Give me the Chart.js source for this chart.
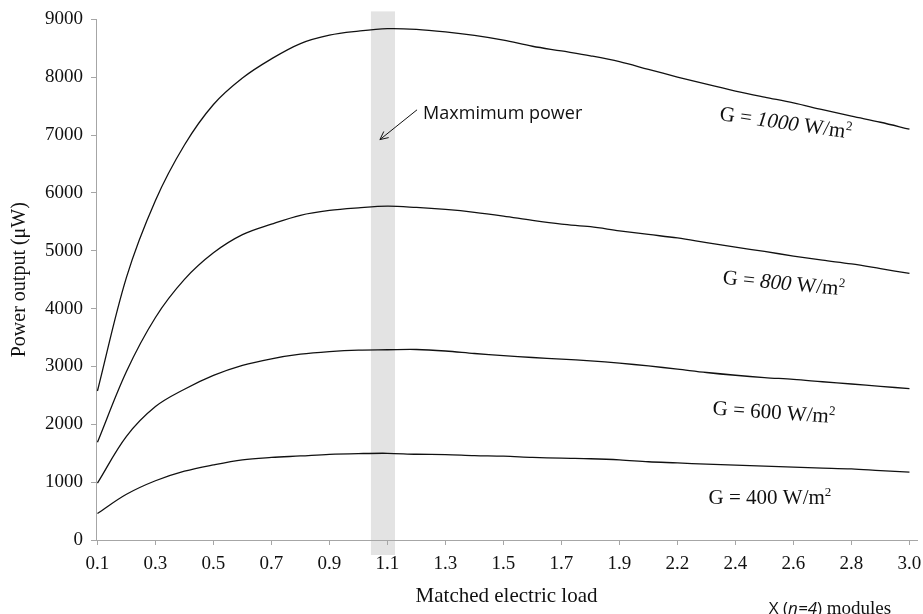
<!DOCTYPE html>
<html>
<head>
<meta charset="utf-8">
<script src="https://cdn.jsdelivr.net/npm/chart.js@4.4.0/dist/chart.umd.min.js"></script>
<style>
  html, body { margin: 0; padding: 0; background: #fff; }
  #wrap { width: 923px; height: 614px; position: relative; }
</style>
</head>
<body>
<div id="wrap"><canvas id="powerChart"></canvas></div>
<script>
const loadLabels = [
  "0.1", "0.2", "0.3", "0.4", "0.5", "0.6", "0.7", "0.8", "0.9", "1.0",
  "1.1", "1.2", "1.3", "1.4", "1.5", "1.6", "1.7", "1.8", "1.9", "2.0",
  "2.2", "2.3", "2.4", "2.5", "2.6", "2.7", "2.8", "2.9", "3.0"
];

const g1000 = [2576, 4540, 5870, 6829, 7529, 7987, 8318, 8582, 8727, 8797,
  8840, 8828, 8784, 8722, 8640, 8536, 8454, 8370, 8270, 8136,
  8004, 7879, 7762, 7657, 7557, 7439, 7327, 7222, 7102];
const g800 = [1689, 2913, 3847, 4505, 4964, 5278, 5459, 5613, 5697, 5742,
  5771, 5749, 5714, 5665, 5600, 5526, 5462, 5416, 5345, 5282,
  5222, 5141, 5062, 4988, 4909, 4837, 4772, 4691, 4608];
const g600 = [984, 1792, 2307, 2607, 2846, 3019, 3133, 3212, 3258, 3284,
  3289, 3293, 3267, 3224, 3188, 3155, 3128, 3097, 3057, 3009,
  2954, 2896, 2848, 2808, 2777, 2736, 2697, 2657, 2616];
const g400 = [459, 790, 1024, 1189, 1299, 1386, 1427, 1453, 1481, 1494,
  1499, 1482, 1477, 1460, 1450, 1429, 1414, 1405, 1386, 1353,
  1333, 1311, 1293, 1276, 1259, 1244, 1228, 1199, 1173];

const irradiance = ["1000", "800", "600", "400"];
const seriesValues = [g1000, g800, g600, g400];
const xTickIndex = [0, 2, 4, 6, 8, 10, 12, 14, 16, 18, 20, 22, 24, 26, 28];

const serif = '"Liberation Serif", "Times New Roman", serif';
const sans = '"Open Sans", "Noto Sans", sans-serif';
const axisGray = '#a6a6a6';

// label placement for each curve, in axis units
const curveTags = [
  { x: 23.74, y: 7220, angle: 8, italic: true },
  { x: 23.67, y: 4450, angle: 5.5, italic: true },
  { x: 23.33, y: 2216, angle: 4, italic: false },
  { x: 23.19, y: 739, angle: 0, italic: false }
];

function drawRuns(ctx, runs, cx, cy, angle) {
  ctx.save();
  ctx.translate(cx, cy);
  ctx.rotate(angle * Math.PI / 180);
  ctx.textBaseline = 'alphabetic';
  ctx.textAlign = 'left';
  let total = 0;
  runs.forEach(r => { ctx.font = r.font; r.w = ctx.measureText(r.text).width; total += r.w; });
  let x = -total / 2;
  runs.forEach(r => {
    ctx.font = r.font;
    ctx.fillText(r.text, x, 7 + (r.dy || 0));
    x += r.w;
  });
  ctx.restore();
}

const bandPlugin = {
  id: 'maxBand',
  beforeDraw(chart) {
    const { ctx, chartArea, scales } = chart;
    const x0 = scales.x.getPixelForValue(9.43);
    const x1 = scales.x.getPixelForValue(10.26);
    ctx.save();
    ctx.fillStyle = '#e3e3e3';
    ctx.fillRect(x0, chartArea.top - 8, x1 - x0, chartArea.bottom - chartArea.top + 23);
    ctx.restore();
  }
};

const notesPlugin = {
  id: 'notes',
  afterDatasetsDraw(chart) {
    const { ctx, scales } = chart;
    const sx = scales.x, sy = scales.y;
    ctx.save();
    ctx.fillStyle = '#111';

    // curve labels
    curveTags.forEach((t, i) => {
      const numFont = (t.italic ? 'italic ' : '') + '21px ' + serif;
      drawRuns(ctx, [
        { text: 'G = ', font: '21px ' + serif },
        { text: irradiance[i], font: numFont },
        { text: ' W/m', font: '21px ' + serif },
        { text: '2', font: '13px ' + serif, dy: -8 }
      ], sx.getPixelForValue(t.x), sy.getPixelForValue(t.y), t.angle);
    });

    // maximum power note + arrow
    const ax0 = sx.getPixelForValue(11.02), ay0 = sy.getPixelForValue(7437);
    const ax1 = sx.getPixelForValue(9.74), ay1 = sy.getPixelForValue(6922);
    ctx.strokeStyle = '#111';
    ctx.lineWidth = 1;
    ctx.beginPath();
    ctx.moveTo(ax0, ay0);
    ctx.lineTo(ax1, ay1);
    const a = Math.atan2(ay1 - ay0, ax1 - ax0);
    [0.45, -0.45].forEach(d => {
      ctx.moveTo(ax1, ay1);
      ctx.lineTo(ax1 - 9 * Math.cos(a + d), ay1 - 9 * Math.sin(a + d));
    });
    ctx.stroke();

    ctx.font = '18px ' + sans;
    ctx.textAlign = 'left';
    ctx.textBaseline = 'middle';
    ctx.fillText('Maxmimum power', sx.getPixelForValue(11.23), sy.getPixelForValue(7369));

    // unit note under the axis
    drawRuns(ctx, [
      { text: 'X (', font: '17px ' + sans },
      { text: 'n=4', font: 'italic 17px ' + sans },
      { text: ')', font: '17px ' + sans },
      { text: ' modules', font: '19px ' + serif }
    ], chart.width - 93, chart.height - 7, 0);
    ctx.restore();
  }
};

const datasets = seriesValues.map((vals, i) => ({
  label: 'G = ' + irradiance[i] + ' W/m2',
  data: vals.map((v, k) => ({ x: k, y: v })),
  borderColor: '#111',
  borderWidth: 1.3,
  pointRadius: 0,
  tension: 0.35,
  fill: false
}));

new Chart(document.getElementById('powerChart'), {
  type: 'line',
  data: { datasets },
  plugins: [bandPlugin, notesPlugin],
  options: {
    responsive: true,
    maintainAspectRatio: false,
    animation: false,
    layout: { padding: { top: 16, right: 6, bottom: 0, left: 0 } },
    plugins: { legend: { display: false }, tooltip: { enabled: false } },
    scales: {
      x: {
        type: 'linear',
        min: -0.05,
        max: 28.26,
        afterBuildTicks: s => { s.ticks = xTickIndex.map(v => ({ value: v })); },
        afterFit: s => { s.height = 74; s.paddingLeft = 0; s.paddingRight = 0; },
        ticks: {
          color: '#111',
          padding: 8,
          maxRotation: 0,
          autoSkip: false,
          font: { family: serif, size: 19 },
          callback: v => loadLabels[v]
        },
        grid: { drawOnChartArea: false, tickLength: 5, color: axisGray },
        border: { color: axisGray, width: 1 },
        title: {
          display: true,
          text: 'Matched electric load',
          color: '#111',
          font: { family: serif, size: 21 },
          padding: { top: 0, bottom: 5 }
        }
      },
      y: {
        min: 0,
        max: 9000,
        afterFit: s => { s.width = 96; },
        ticks: {
          stepSize: 1000,
          color: '#111',
          padding: 8,
          font: { family: serif, size: 19 },
          callback: v => String(v)
        },
        grid: { drawOnChartArea: false, tickLength: 5, color: axisGray },
        border: { color: axisGray, width: 1 },
        title: {
          display: true,
          text: 'Power output (μW)',
          color: '#111',
          font: { family: serif, size: 20 },
          padding: { top: 8, bottom: 0 }
        }
      }
    }
  }
});
</script>
</body>
</html>
